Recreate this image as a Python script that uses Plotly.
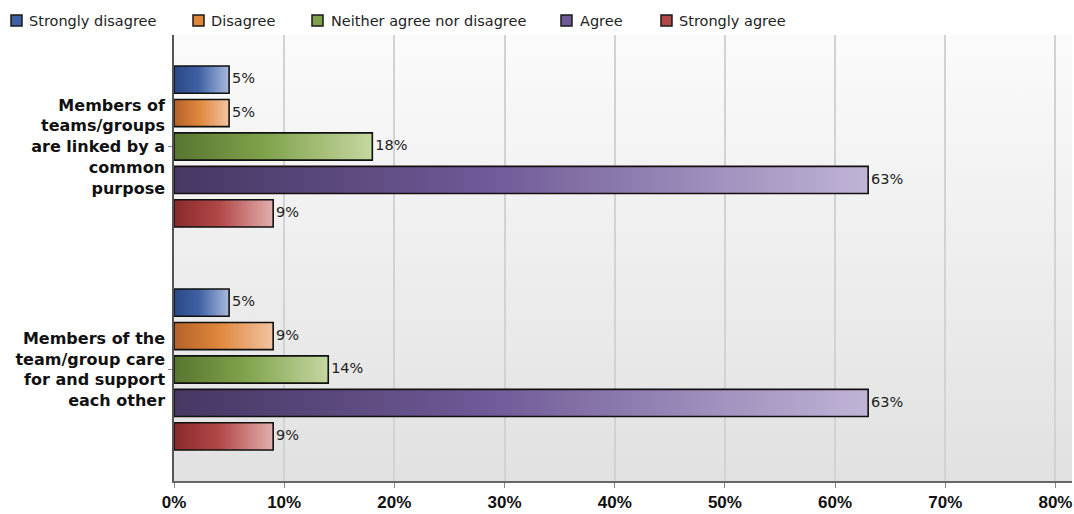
import base64
import plotly.graph_objects as go

# Survey statements and response shares (%)
categories = [
    "Members of<br>teams/groups<br>are linked by a<br>common<br>purpose",
    "Members of the<br>team/group care<br>for and support<br>each other",
]
responses = ["Strongly disagree", "Disagree", "Neither agree nor disagree", "Agree", "Strongly agree"]
strongly_disagree = [5, 5]
disagree = [5, 9]
neither = [18, 14]
agree = [63, 63]
strongly_agree = [9, 9]
x_ticks = [0, 10, 20, 30, 40, 50, 60, 70, 80]

series = [strongly_disagree, disagree, neither, agree, strongly_agree]

# (dark, mid, light) gradient stops per response
palette = [
    ("#2b4785", "#3f61a4", "#a9b9dc"),
    ("#b5622a", "#df863c", "#f2c4a0"),
    ("#587630", "#7fa14a", "#c4d7a0"),
    ("#463763", "#6e5a97", "#c0b4d6"),
    ("#8a2a2a", "#b14747", "#e3aeae"),
]

# figure geometry (pixels)
W, H = 1074, 514
ML, MR, MT, MB = 174, 2, 35, 30
PW, PH = W - ML - MR, H - MT - MB

slot = 0.15       # spacing between bars inside a group (category units)
half_h = 0.061    # half bar thickness

fig = go.Figure()

for k, (name, vals) in enumerate(zip(responses, series)):
    dark, mid, light = palette[k]
    for ci, v in enumerate(vals):
        yc = ci + (k - 2) * slot
        y0, y1 = yc - half_h, yc + half_h
        fig.add_trace(go.Scatter(
            x=[0, v, v, 0, 0], y=[y0, y0, y1, y1, y0],
            mode="lines", fill="toself", name=name,
            fillgradient=dict(type="horizontal", start=0, stop=v,
                              colorscale=[[0, dark], [0.45, mid], [1, light]]),
            line=dict(color="#111111", width=1.6),
            showlegend=False, hoverinfo="skip",
        ))
    fig.add_trace(go.Scatter(
        x=vals, y=[ci + (k - 2) * slot for ci in range(len(vals))],
        mode="text", text=[f"\u2009{v}%" for v in vals],
        textposition="middle right",
        textfont=dict(family="DejaVu Sans", size=14.5, color="#222222"),
        showlegend=False, hoverinfo="skip", cliponaxis=False,
    ))

# legend row across the top: swatch left edges and label starts (pixels)
legend_swatch_px = [11, 193, 312, 561, 661]
legend_text_px = [28, 210, 330, 579, 678]
legend_mid_px = 20.5
for k, name in enumerate(responses):
    sx = legend_swatch_px[k] - ML
    fig.add_shape(type="rect", xref="paper", yref="paper",
                  xsizemode="pixel", ysizemode="pixel", xanchor=0, yanchor=1,
                  x0=sx, x1=sx + 11, y0=MT - legend_mid_px - 5.5, y1=MT - legend_mid_px + 5.5,
                  fillcolor=palette[k][1], line=dict(color="#1a1a1a", width=1.5))
    fig.add_annotation(text=name, xref="paper", yref="paper",
                       x=(legend_text_px[k] - ML) / PW, y=1 + (MT - legend_mid_px) / PH,
                       xanchor="left", yanchor="middle", showarrow=False, borderpad=0,
                       font=dict(family="DejaVu Sans", size=14.5, color="#222222"))

# soft vertical gradient behind the plotting area
svg = ('<svg xmlns="http://www.w3.org/2000/svg" width="10" height="100" preserveAspectRatio="none">'
       '<defs><linearGradient id="g" x1="0" y1="0" x2="0" y2="1">'
       '<stop offset="0" stop-color="#fbfbfb"/><stop offset="1" stop-color="#e1e1e1"/>'
       '</linearGradient></defs><rect width="10" height="100" fill="url(#g)"/></svg>')
bg_uri = "data:image/svg+xml;base64," + base64.b64encode(svg.encode()).decode()

fig.update_layout(
    width=W, height=H,
    margin=dict(l=ML, r=MR, t=MT, b=MB),
    paper_bgcolor="white",
    plot_bgcolor="rgba(0,0,0,0)",
    showlegend=False,
    images=[dict(source=bg_uri, xref="paper", yref="paper", x=0, y=1,
                 sizex=1, sizey=1, sizing="stretch", layer="below",
                 xanchor="left", yanchor="top")],
    xaxis=dict(
        range=[0, 81.5], tickvals=x_ticks, ticktext=[f"{t}%" for t in x_ticks],
        showgrid=True, gridcolor="#d2d2d2", gridwidth=1.5,
        showline=True, linecolor="#666666", linewidth=2,
        ticks="outside", ticklen=5, tickcolor="#888888",
        tickfont=dict(family="Liberation Sans Narrow, Liberation Sans", size=17, color="#111111", weight="bold"),
        zeroline=False, fixedrange=True,
    ),
    yaxis=dict(
        range=[1.5, -0.5], tickvals=[0, 1], ticktext=categories,
        showgrid=False, showline=True, linecolor="#555555", linewidth=1.5,
        ticks="outside", ticklen=4, tickcolor="#888888",
        tickfont=dict(family="DejaVu Sans", size=16, color="#111111", weight="bold"),
        zeroline=False, fixedrange=True,
    ),
)

fig.write_html("out.html")
